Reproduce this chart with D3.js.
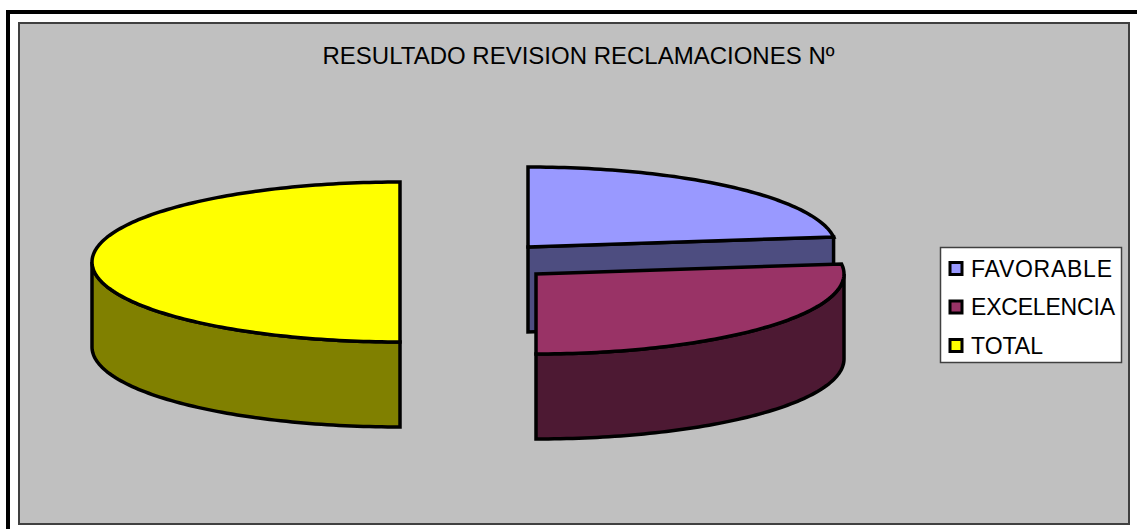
<!DOCTYPE html>
<html>
<head>
<meta charset="utf-8">
<script src="https://d3js.org/d3.v7.min.js"></script>
<style>
  html, body { margin: 0; padding: 0; background: #fff; }
  svg { display: block; font-family: "Liberation Sans", Arial, sans-serif; }
</style>
</head>
<body>
<div id="chart"></div>
<script>
var title = "RESULTADO REVISION RECLAMACIONES Nº"
var categories = ["FAVORABLE", "EXCELENCIA", "TOTAL"]
var values = [23, 27, 50]
var topColors = ["#9999ff", "#993366", "#ffff00"]
var sideColors = ["#4d4d80", "#4d1933", "#808000"]

var width = 1137
var height = 529

// centre of each exploded slice on the top face
var centerX = [528, 536, 400]
var centerY = [247, 274, 262]
var rx = 308
var ry = 80
var depth = 85
var stroke = 3.5

// the old chart font runs a bit wider than Liberation, so force the label widths
var labelWidths = [141, 144, 72]

var svg = d3.select("#chart").append("svg")
  .attr("width", width)
  .attr("height", height)

// outer frame, only left and top are inside the picture
svg.append("path")
  .attr("d", "M8,529 V12 H1137")
  .attr("fill", "none")
  .attr("stroke", "#000")
  .attr("stroke-width", 4)

svg.append("rect")
  .attr("x", 19)
  .attr("y", 23)
  .attr("width", 1110)
  .attr("height", 501)
  .attr("fill", "#c0c0c0")
  .attr("stroke", "#404040")
  .attr("stroke-width", 2)

svg.append("text")
  .attr("x", 578.5)
  .attr("y", 64)
  .attr("text-anchor", "middle")
  .attr("font-size", 24)
  .attr("fill", "#000")
  .text(title)

var pie = d3.pie().sort(null)
var slices = pie(values)

// angle is clockwise from 12 o'clock, as in d3.pie
function project(i, a, dy) {
  return [centerX[i] + rx * Math.sin(a), centerY[i] - ry * Math.cos(a) + (dy || 0)]
}

function arcPoints(i, a0, a1, dy) {
  var n = Math.max(2, Math.ceil((a1 - a0) / 0.02))
  return d3.range(n + 1).map(function (k) {
    return project(i, a0 + (a1 - a0) * k / n, dy)
  })
}

var line = d3.line()

function topFace(i, d) {
  return line([[centerX[i], centerY[i]]].concat(arcPoints(i, d.startAngle, d.endAngle))) + "Z"
}

// outer wall, only the part of the rim that faces the viewer
function outerWall(i, d) {
  var a0 = Math.max(d.startAngle, Math.PI / 2)
  var a1 = Math.min(d.endAngle, Math.PI * 1.5)
  if (a1 <= a0) return null
  var front = arcPoints(i, a0, a1)
  var back = arcPoints(i, a0, a1, depth).reverse()
  return line(front.concat(back)) + "Z"
}

// flat cut face running from the centre to the end of the slice
function cutFace(i, a) {
  var edge = project(i, a)
  var p = [[centerX[i], centerY[i]], edge, [edge[0], edge[1] + depth], [centerX[i], centerY[i] + depth]]
  return line(p) + "Z"
}

// back slices first
var order = [2, 0, 1]
order.forEach(function (i) {
  var d = slices[i]
  var g = svg.append("g")
    .attr("stroke", "#000")
    .attr("stroke-width", stroke)
    .attr("stroke-linejoin", "miter")

  if (d.endAngle < Math.PI / 2 + 0.001) {
    g.append("path").attr("d", cutFace(i, d.endAngle)).attr("fill", sideColors[i])
  }
  var wall = outerWall(i, d)
  if (wall) {
    g.append("path").attr("d", wall).attr("fill", sideColors[i])
  }
  g.append("path").attr("d", topFace(i, d)).attr("fill", topColors[i])
})

// legend
var legendY = d3.scalePoint().domain(categories).range([268.5, 345.5])

svg.append("rect")
  .attr("x", 940.5)
  .attr("y", 247.5)
  .attr("width", 181)
  .attr("height", 115)
  .attr("fill", "#fff")
  .attr("stroke", "#404040")
  .attr("stroke-width", 1.5)

var item = svg.selectAll(".legend")
  .data(categories)
  .enter()
  .append("g")
  .attr("class", "legend")
  .attr("transform", function (d) { return "translate(0," + legendY(d) + ")" })

item.append("rect")
  .attr("x", 950)
  .attr("y", -6)
  .attr("width", 12)
  .attr("height", 12)
  .attr("fill", function (d, i) { return topColors[i] })
  .attr("stroke", "#000")
  .attr("stroke-width", 3)

item.append("text")
  .attr("x", 971)
  .attr("y", 8)
  .attr("font-size", 23)
  .attr("textLength", function (d, i) { return labelWidths[i] })
  .attr("lengthAdjust", "spacing")
  .attr("fill", "#000")
  .text(function (d) { return d })
</script>
</body>
</html>
